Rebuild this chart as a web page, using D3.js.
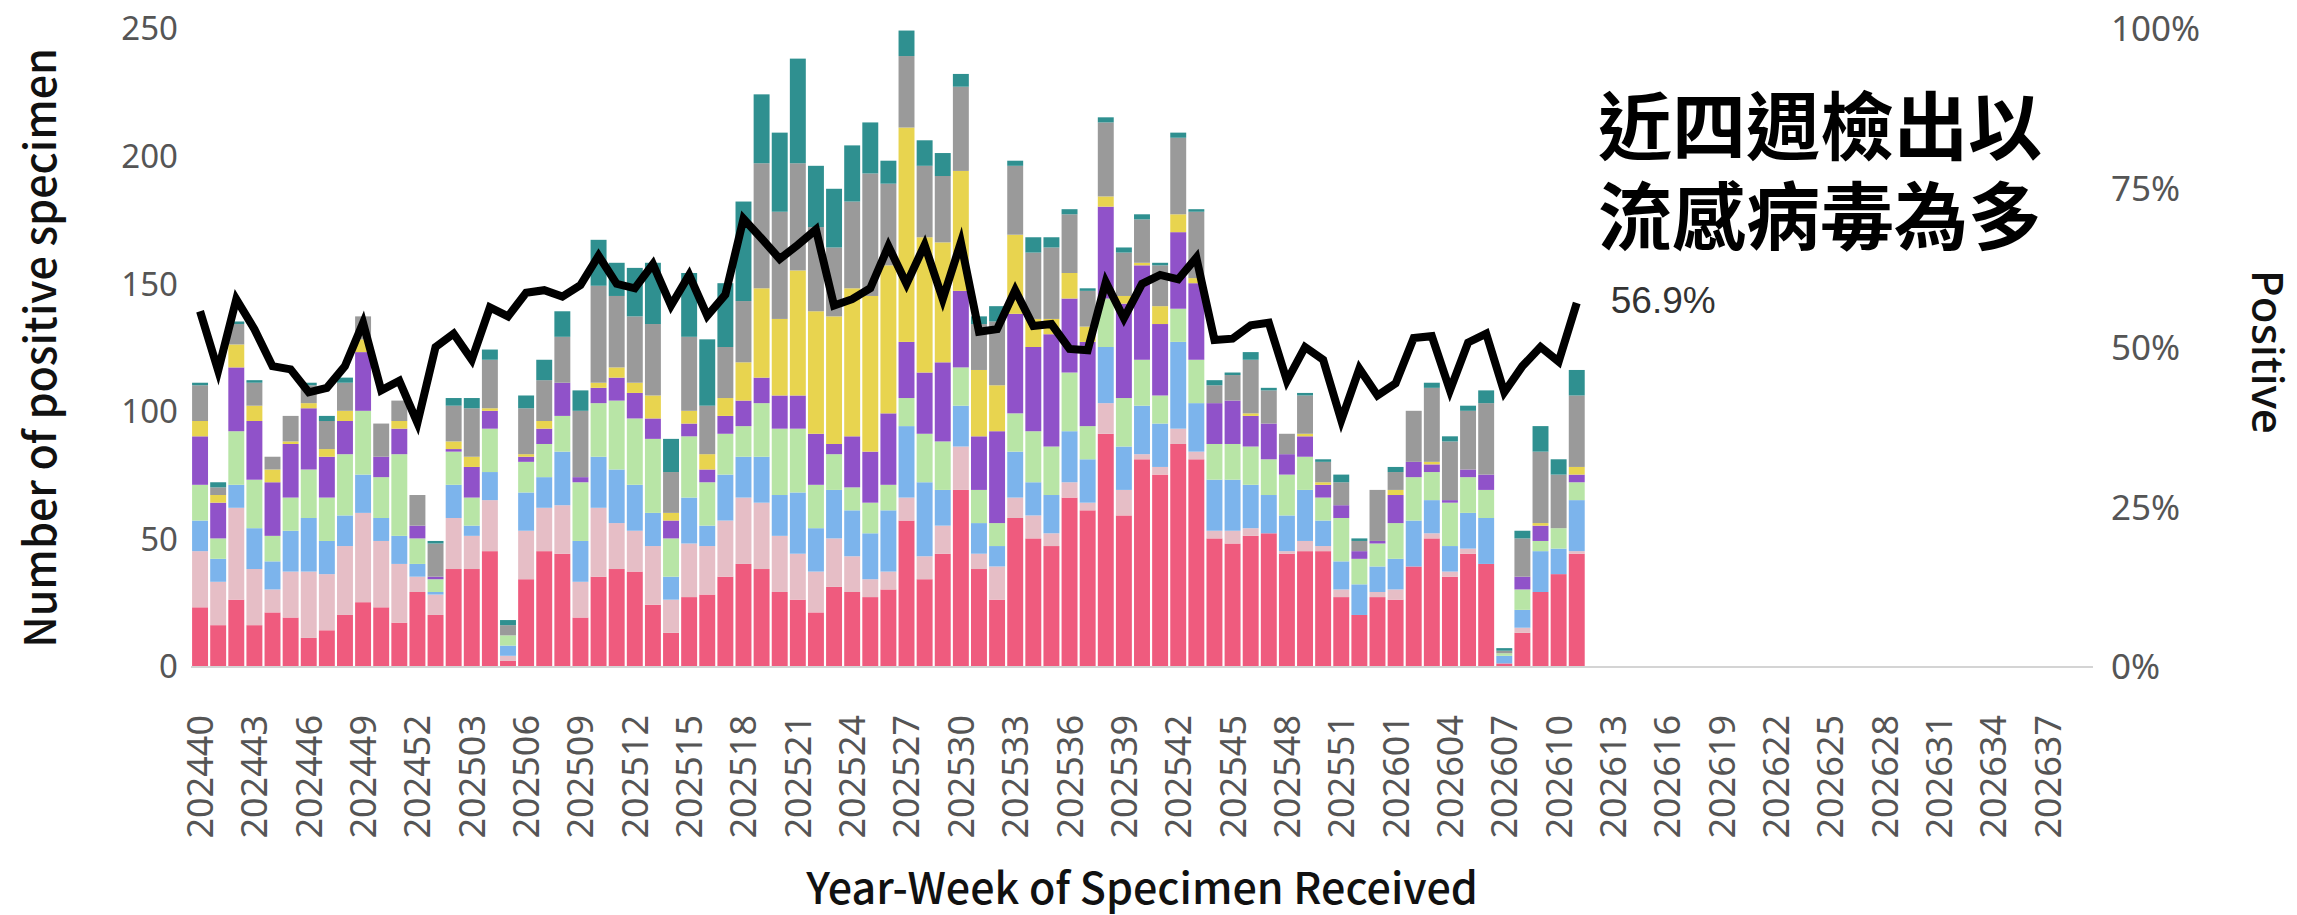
<!DOCTYPE html>
<html>
<head>
<meta charset="utf-8">
<script src="https://cdn.jsdelivr.net/npm/d3@7"></script>
<style>
  body { margin: 0; background: #fff; }
  svg text { font-family: "Noto Sans", sans-serif; }
</style>
</head>
<body>
<svg id="chart" width="2297" height="915"></svg>
<script>
// year-week categories on the x axis (2025 has 53 weeks)
var weeks = [
  "202440","202441","202442","202443","202444","202445","202446","202447","202448","202449","202450","202451","202452",
  "202501","202502","202503","202504","202505","202506","202507","202508","202509","202510","202511","202512","202513",
  "202514","202515","202516","202517","202518","202519","202520","202521","202522","202523","202524","202525","202526",
  "202527","202528","202529","202530","202531","202532","202533","202534","202535","202536","202537","202538","202539",
  "202540","202541","202542","202543","202544","202545","202546","202547","202548","202549","202550","202551","202552","202553",
  "202601","202602","202603","202604","202605","202606","202607","202608","202609","202610","202611","202612","202613",
  "202614","202615","202616","202617","202618","202619","202620","202621","202622","202623","202624","202625","202626",
  "202627","202628","202629","202630","202631","202632","202633","202634","202635","202636","202637","202638","202639"
];

// positive specimens per week, one array per stacked colour (bottom to top)
var roseCounts   = [23,16,26,16,21,19,11,14,20,25, 23,17,29,20,38,38,45,2,34,45, 44,19,35,38,37,24,13,27,28,35, 40,38,29,26,21,31,29,27,30,57, 34,44,69,38,26,58,50,47,66,61, 91,59,81,75,87,81,50,48,51,52, 44,45,45,27,20,27,26,39,50,35, 44,40,1,13,29,36,44];
var blushCounts  = [22,17,36,22,9,18,26,22,27,35, 26,23,6,8,20,13,20,2,19,17, 19,14,27,18,16,23,13,21,19,22, 26,26,22,18,16,19,14,7,7,9, 9,11,17,6,13,8,9,5,6,3, 12,10,2,3,6,3,3,5,3,0, 1,4,2,3,0,2,4,0,2,2, 2,0,0,2,0,0,1];
var skyCounts    = [12,9,9,16,11,16,21,13,12,15, 9,11,5,1,13,4,11,4,15,12, 21,16,20,21,18,13,9,18,8,18, 16,18,16,24,17,19,18,18,24,28, 29,14,16,12,8,18,13,15,20,17, 22,17,19,17,34,19,20,20,17,15, 14,20,10,11,12,10,12,18,13,10, 14,18,3,7,16,10,20];
var mintCounts   = [14,8,21,19,10,13,19,17,24,25, 16,32,10,5,13,11,17,4,12,13, 14,23,21,27,26,29,15,24,17,16, 12,21,26,25,17,14,9,12,10,11, 19,19,15,13,9,15,20,19,23,13, 19,19,18,11,13,17,14,14,15,14, 16,13,9,17,10,9,14,17,11,17, 14,11,1,8,4,8,7];
var violetCounts = [19,14,25,23,21,21,24,16,13,23, 8,10,5,1,1,12,7,0,2,6, 13,2,6,9,10,8,7,5,5,7, 10,10,13,13,20,4,20,20,28,22, 24,31,30,21,36,39,33,44,29,33, 36,37,37,28,30,30,16,17,12,14, 8,8,5,5,3,1,11,6,3,1, 3,6,0,5,6,0,3];
var goldCounts   = [6,3,9,6,5,1,2,3,4,5, 0,3,0,0,3,4,1,0,1,3, 0,0,2,4,4,9,3,5,6,7, 15,35,30,49,48,50,58,61,58,84, 53,47,47,26,18,31,11,6,10,6, 4,3,1,7,7,2,0,0,1,0, 0,1,1,0,0,0,2,0,1,0, 0,0,0,0,1,0,3];
var greyCounts   = [14,3,8,9,5,10,7,11,11,9, 13,8,12,13,14,19,19,4,18,16, 18,26,38,28,26,28,16,29,19,20, 24,49,42,42,33,27,34,48,32,28, 28,26,33,18,25,27,26,28,23,14, 29,17,17,16,30,26,7,10,21,13, 8,15,8,9,4,20,7,20,29,23, 23,28,1,15,28,21,28];
var tealCounts   = [1,2,1,1,0,0,1,2,2,0, 0,0,0,1,3,4,4,2,5,8, 10,8,18,13,19,24,13,25,26,25, 39,27,31,41,24,23,22,20,9,10, 10,9,5,3,6,2,6,4,2,1, 2,2,2,1,2,1,2,1,3,1, 0,1,1,3,1,0,2,0,2,2, 2,5,1,3,10,6,10];

// weekly positivity (%)
var positiveRate = [55.6,46.3,57.5,52.8,47.0,46.5,42.9,43.6,47.0,53.8, 43.2,44.7,38.1,50.0,52.1,48.0,56.2,54.8,58.5,58.9,
  57.9,59.7,64.3,59.9,59.2,63.0,56.5,61.3,54.9,58.2, 70.1,67.0,63.8,66.0,68.4,56.5,57.5,59.2,65.8,59.9,
  66.0,57.5,66.4,52.4,52.8,58.9,53.3,53.6,49.7,49.5, 60.2,54.5,59.9,61.3,60.6,64.0,51.1,51.3,53.4,53.8,
  44.7,50.0,48.0,38.5,46.6,42.4,44.3,51.4,51.7,43.2, 50.7,52.1,42.9,47.0,50.0,47.7,56.9];

var countTicks = [0,50,100,150,200,250];
var rateTicks = [0,25,50,75,100];

var keys = ["rose","blush","sky","mint","violet","gold","grey","teal"];
var colors = ["#ef5b7e","#e6bec6","#7cb4ec","#b8e5a6","#9052c9","#e8d44f","#9a9a9a","#2f9090"];
var seriesArrays = [roseCounts,blushCounts,skyCounts,mintCounts,violetCounts,goldCounts,greyCounts,tealCounts];

var rows = positiveRate.map(function(p, i) {
  var r = { week: weeks[i], rate: p };
  keys.forEach(function(k, j) { r[k] = seriesArrays[j][i]; });
  return r;
});

var svg = d3.select("#chart");
var plotLeft = 191, plotRight = 2093, plotTop = 28, plotBottom = 666;

var x = d3.scaleBand().domain(weeks).range([plotLeft, plotRight]).paddingInner(0.12).paddingOuter(0.06);
var y = d3.scaleLinear().domain([0, 250]).range([plotBottom, plotTop]);
var yRate = d3.scaleLinear().domain([0, 100]).range([plotBottom, plotTop]);
var color = d3.scaleOrdinal().domain(keys).range(colors);

var stacked = d3.stack().keys(keys)(rows);

svg.append("g")
  .selectAll("g")
  .data(stacked)
  .enter().append("g")
  .attr("fill", function(d) { return color(d.key); })
  .selectAll("rect")
  .data(function(d) { return d; })
  .enter().append("rect")
  .attr("x", function(d) { return x(d.data.week); })
  .attr("width", x.bandwidth())
  .attr("y", function(d) { return y(d[1]); })
  .attr("height", function(d) { return Math.max(0, y(d[0]) - y(d[1])); });

// baseline
svg.append("line")
  .attr("x1", plotLeft).attr("x2", plotRight)
  .attr("y1", plotBottom + 1).attr("y2", plotBottom + 1)
  .attr("stroke", "#d4d4d4").attr("stroke-width", 2);

// x axis
var xTickValues = weeks.filter(function(d, i) { return i % 3 === 0; });
var xAxis = svg.append("g")
  .attr("transform", "translate(0," + plotBottom + ")")
  .call(d3.axisBottom(x).tickValues(xTickValues).tickSize(0).tickPadding(0));
xAxis.select(".domain").remove();
xAxis.selectAll("text")
  .attr("transform", "rotate(-90)")
  .attr("text-anchor", "end")
  .attr("x", -49).attr("y", 0).attr("dy", "0.36em")
  .style("font-family", "'Noto Sans', sans-serif")
  .style("font-size", "36px").attr("fill", "#555");

// left axis
var yAxis = svg.append("g")
  .attr("transform", "translate(178,0)")
  .call(d3.axisLeft(y).tickValues(countTicks).tickSize(0).tickPadding(0));
yAxis.select(".domain").remove();
yAxis.selectAll("text")
  .style("font-family", "'Noto Sans', sans-serif")
  .style("font-size", "33px").attr("fill", "#555").attr("dy", "0.36em");

// right axis
var rAxis = svg.append("g")
  .attr("transform", "translate(2111,0)")
  .call(d3.axisRight(yRate).tickValues(rateTicks).tickSize(0).tickPadding(0)
    .tickFormat(function(d) { return d + "%"; }));
rAxis.select(".domain").remove();
rAxis.selectAll("text")
  .style("font-family", "'Noto Sans', sans-serif")
  .style("font-size", "35px").attr("fill", "#555").attr("dy", "0.36em");

// positivity line
var line = d3.line()
  .x(function(d) { return x(d.week) + x.bandwidth() / 2; })
  .y(function(d) { return yRate(d.rate); });
svg.append("path")
  .datum(rows)
  .attr("d", line)
  .attr("fill", "none")
  .attr("stroke", "#000")
  .attr("stroke-width", 8)
  .attr("stroke-linejoin", "miter");

var last = rows[rows.length - 1];
svg.append("text")
  .attr("x", x(last.week) + x.bandwidth() / 2 + 34)
  .attr("y", yRate(last.rate) + 10)
  .style("font-family", "'Liberation Sans', Arial, sans-serif")
  .style("font-size", "37px").attr("fill", "#333")
  .text(last.rate.toFixed(1) + "%");

// axis titles
svg.append("text")
  .attr("transform", "translate(56,348) rotate(-90)")
  .attr("text-anchor", "middle")
  .style("font-family", "'Noto Sans CJK TC', sans-serif")
  .style("font-size", "43px").style("font-weight", 500).attr("fill", "#111")
  .text("Number of positive specimen");

svg.append("text")
  .attr("x", 1142).attr("y", 904)
  .attr("text-anchor", "middle")
  .style("font-family", "'Noto Sans CJK TC', sans-serif")
  .style("font-size", "43px").style("font-weight", 500).attr("fill", "#111")
  .text("Year-Week of Specimen Received");

svg.append("text")
  .attr("transform", "translate(2252,352) rotate(90)")
  .attr("text-anchor", "middle")
  .style("font-family", "'Noto Sans', sans-serif")
  .style("font-size", "44px").style("font-weight", 500).attr("fill", "#111")
  .text("Positive");

// annotation
var note = ["近四週檢出以", "流感病毒為多"];
svg.selectAll(".note")
  .data(note)
  .enter().append("text")
  .attr("class", "note")
  .attr("x", 1598)
  .attr("y", function(d, i) { return 154 + i * 90; })
  .style("font-family", "'Noto Sans CJK TC', sans-serif")
  .style("font-size", "74px").style("font-weight", 700).attr("fill", "#000")
  .text(function(d) { return d; });
</script>
</body>
</html>
